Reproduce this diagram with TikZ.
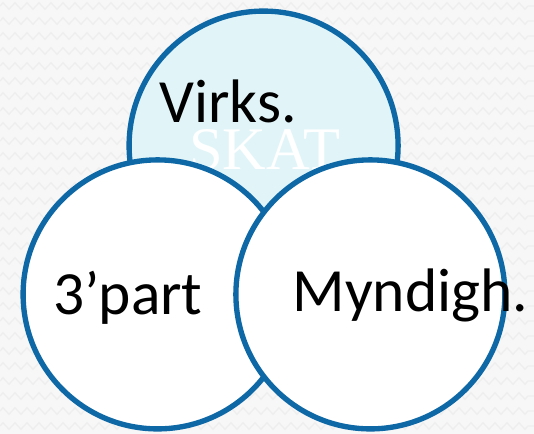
\documentclass[tikz,border=0pt]{standalone}
\usepackage{fontspec}
\setmainfont{Carlito}
\newfontfamily\skatfont{Liberation Serif}
\usetikzlibrary{decorations.pathmorphing}

\definecolor{ringblue}{RGB}{14,104,166}
\definecolor{paleblue}{RGB}{225,245,249}
\definecolor{zigzaggray}{RGB}{238,238,238}

\begin{document}
\begin{tikzpicture}[thick,main node/.style={circle,draw=ringblue,line width=3.8pt,minimum size=6.725cm,inner sep=0pt},label text/.style={font=\fontsize{43.7}{50}\selectfont,anchor=base west,inner sep=0pt}]
\tikzstyle{zigzag line} = [draw=zigzaggray,line width=0.9pt,decorate,decoration={zigzag,segment length=0.3cm,amplitude=0.08cm}]

\useasboundingbox (0,0) rectangle (13.35,10.85);
\fill[white!97!black] (0,0) rectangle (13.35,10.85);

% Background
\foreach \y in {0.2,0.575,...,10.85}
  \draw[zigzag line] (0,\y) -- (13.35,\y);

% Circles
\node[main node, fill=paleblue] (virks) at (6.59,7.21) {};
\node[label text, font=\skatfont\fontsize{43}{50}\selectfont, text=white] (skat) at (4.72,6.6) {SKAT};
\node[label text] (virkstext) at (3.975,7.775) {Virks.};

\node[main node, fill=white] (part) at (3.94,3.49) {};
\node[label text] (parttext) at (1.325,2.975) {3’part};

\node[main node, fill=white] (myndigh) at (9.26,3.49) {};
\node[label text] (myndightext) at (7.3,3.05) {Myndigh.};

\end{tikzpicture}
\end{document}
